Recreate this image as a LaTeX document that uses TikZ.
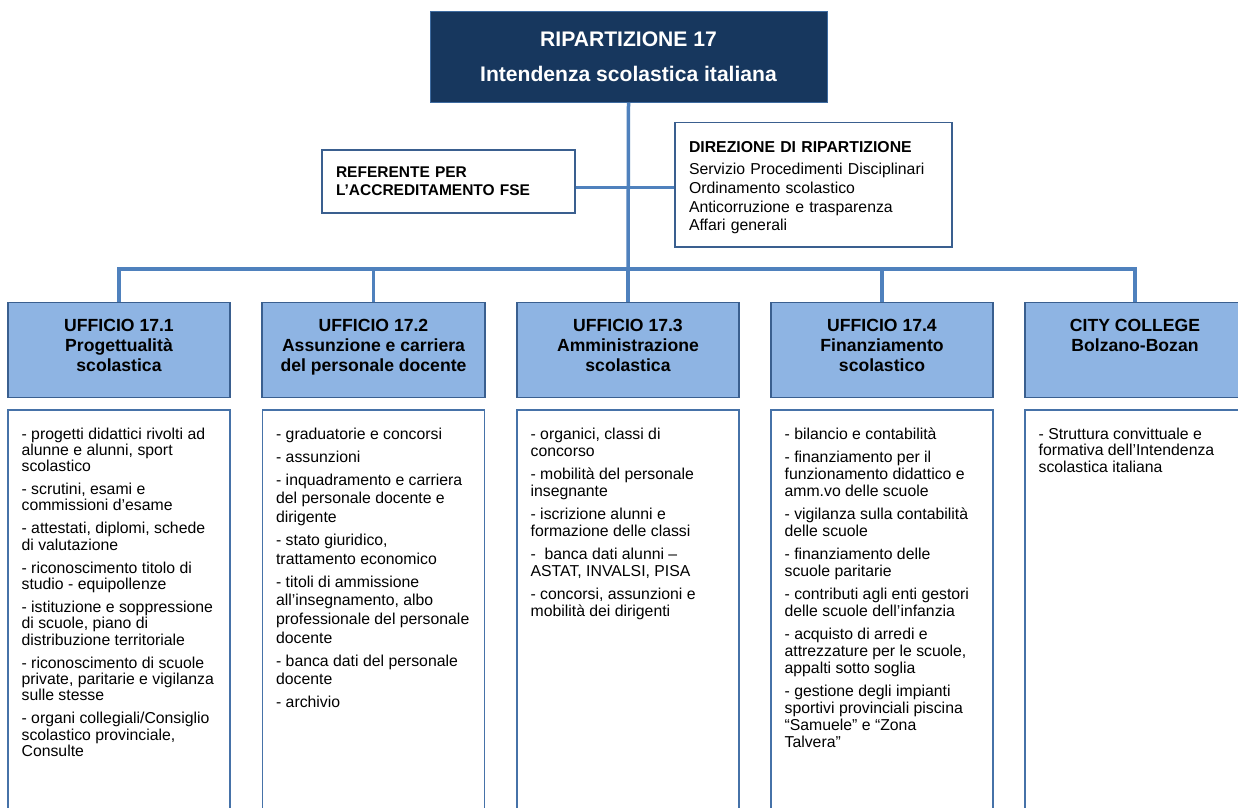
\documentclass[tikz,border=0pt]{standalone}
\usepackage{fontspec}
\setmainfont{Liberation Sans}
\definecolor{navy}{HTML}{17375E}
\definecolor{connc}{HTML}{4F81BD}
\definecolor{hdrfill}{HTML}{8EB4E3}
\definecolor{hdrline}{HTML}{3A5F8F}
\definecolor{boxline}{HTML}{4672A8}
\begin{document}
\begin{tikzpicture}[x=1pt,y=-1pt,
  conn/.style={draw=connc, line width=3.5pt, line join=miter},
  topbox/.style={fill=navy, draw=connc!70!navy, line width=1pt, minimum width=397pt, minimum height=91pt,
    text=white, font=\bfseries\fontsize{21.1}{35}\selectfont, align=center, inner sep=0pt},
  sidebox/.style={draw=hdrline, line width=1.2pt, fill=white, align=left, inner xsep=14pt, inner ysep=0pt},
  hdr/.style={fill=hdrfill, draw=hdrline, line width=1.2pt, minimum width=222pt, minimum height=94.5pt, inner sep=0pt},
  hdrtxt/.style={anchor=north, align=center, inner sep=0pt, font=\bfseries\fontsize{17.6}{20}\selectfont},
  listbox/.style={draw=boxline, line width=1.2pt, minimum width=222pt, minimum height=410pt, inner sep=0pt},
  listtxt/.style={anchor=north west, align=left, inner sep=0pt}
]
\useasboundingbox (0,0) rectangle (1238,807);
\clip (0,0) rectangle (1238,807);
\fill[white] (0,0) rectangle (1238,807);

% top
\node[topbox] (top) at (628.5,56.8) {RIPARTIZIONE 17\\Intendenza scolastica italiana};

\coordinate (hc) at (628,187.7);
\coordinate (j) at (628,269);

% side boxes
\node[sidebox, text width=225pt, minimum height=62.7pt, font=\bfseries\fontsize{15.5}{18}\selectfont] (ref) at (448.5,181.3)
  {REFERENTE PER\\L’ACCREDITAMENTO FSE};
\node[sidebox, text width=249pt, minimum height=124pt, font=\fontsize{15.8}{18.7}\selectfont] (dir) at (813.5,184.7)
  {\rule{0pt}{17.3pt}\textbf{DIREZIONE DI RIPARTIZIONE}\\[3.3pt]Servizio Procedimenti Disciplinari\\Ordinamento scolastico\\Anticorruzione e trasparenza\\Affari generali};

% headers
\node[hdr] (u1) at (119,350) {};
\node[hdr] (u2) at (373.5,350) {};
\node[hdr] (u3) at (628,350) {};
\node[hdr] (u4) at (882,350) {};
\node[hdr, minimum width=220pt] (u5) at (1135,350) {};

% connectors
\draw[conn] (top.south) -- (j);
\draw[conn] (ref.east |- hc) -- (dir.west |- hc);
\draw[conn] (u1.north) -- (u1.north |- j) -- (u5.north |- j) -- (u5.north);
\foreach \u in {u2,u3,u4} \draw[conn] (\u.north) -- (\u.north |- j);

% redraw box borders over line ends
\foreach \u in {u1,u2,u3,u4,u5,ref,dir} \draw[hdrline, line width=1.2pt] (\u.north west) rectangle (\u.south east);

\node[hdrtxt] (u1t) at ([yshift=-17pt]u1.north) {UFFICIO 17.1\\Progettualità\\scolastica};
\node[hdrtxt] (u2t) at ([yshift=-17pt]u2.north) {UFFICIO 17.2\\Assunzione e carriera\\del personale docente};
\node[hdrtxt] (u3t) at ([yshift=-17pt]u3.north) {UFFICIO 17.3\\Amministrazione\\scolastica};
\node[hdrtxt] (u4t) at ([yshift=-17pt]u4.north) {UFFICIO 17.4\\Finanziamento\\scolastico};
\node[hdrtxt] (u5t) at ([yshift=-17pt]u5.north) {CITY COLLEGE\\Bolzano-Bozan};

% list boxes
\node[listbox] (l1) at (119,615) {};
\node[listbox] (l2) at (373.5,615) {};
\node[listbox] (l3) at (628,615) {};
\node[listbox] (l4) at (882,615) {};
\node[listbox, minimum width=220pt] (l5) at (1135,615) {};

\node[listtxt, font=\fontsize{15.8}{16.3}\selectfont] (t1) at ([xshift=14pt,yshift=-18pt]l1.north west)
{- progetti didattici rivolti ad\\alunne e alunni, sport\\scolastico\\[6.7pt]
- scrutini, esami e\\commissioni d’esame\\[6.7pt]
- attestati, diplomi, schede\\di valutazione\\[6.7pt]
- riconoscimento titolo di\\studio - equipollenze\\[6.7pt]
- istituzione e soppressione\\di scuole, piano di\\distribuzione territoriale\\[6.7pt]
- riconoscimento di scuole\\private, paritarie e vigilanza\\sulle stesse\\[6.7pt]
- organi collegiali/Consiglio\\scolastico provinciale,\\Consulte};

\node[listtxt, font=\fontsize{15.8}{18.7}\selectfont] (t2) at ([xshift=14pt,yshift=-18pt]l2.north west)
{- graduatorie e concorsi\\[4.3pt]
- assunzioni\\[4.3pt]
- inquadramento e carriera\\del personale docente e\\dirigente\\[4.3pt]
- stato giuridico,\\trattamento economico\\[4.3pt]
- titoli di ammissione\\all’insegnamento, albo\\professionale del personale\\docente\\[4.3pt]
- banca dati del personale\\docente\\[4.3pt]
- archivio};

\node[listtxt, font=\fontsize{15.8}{17}\selectfont] (t3) at ([xshift=14pt,yshift=-18pt]l3.north west)
{- organici, classi di\\concorso\\[6pt]
- mobilità del personale\\insegnante\\[6pt]
- iscrizione alunni e\\formazione delle classi\\[6pt]
-\ \ banca dati alunni –\\ASTAT, INVALSI, PISA\\[6pt]
- concorsi, assunzioni e\\mobilità dei dirigenti};

\node[listtxt, font=\fontsize{15.8}{17}\selectfont] (t4) at ([xshift=14pt,yshift=-18pt]l4.north west)
{- bilancio e contabilità\\[6pt]
- finanziamento per il\\funzionamento didattico e\\amm.vo delle scuole\\[6pt]
- vigilanza sulla contabilità\\delle scuole\\[6pt]
- finanziamento delle\\scuole paritarie\\[6pt]
- contributi agli enti gestori\\delle scuole dell’infanzia\\[6pt]
- acquisto di arredi e\\attrezzature per le scuole,\\appalti sotto soglia\\[6pt]
- gestione degli impianti\\sportivi provinciali piscina\\“Samuele” e “Zona\\Talvera”};

\node[listtxt, font=\fontsize{15.8}{16.5}\selectfont] (t5) at ([xshift=14pt,yshift=-18pt]l5.north west)
{- Struttura convittuale e\\formativa dell’Intendenza\\scolastica italiana};
\end{tikzpicture}
\end{document}
